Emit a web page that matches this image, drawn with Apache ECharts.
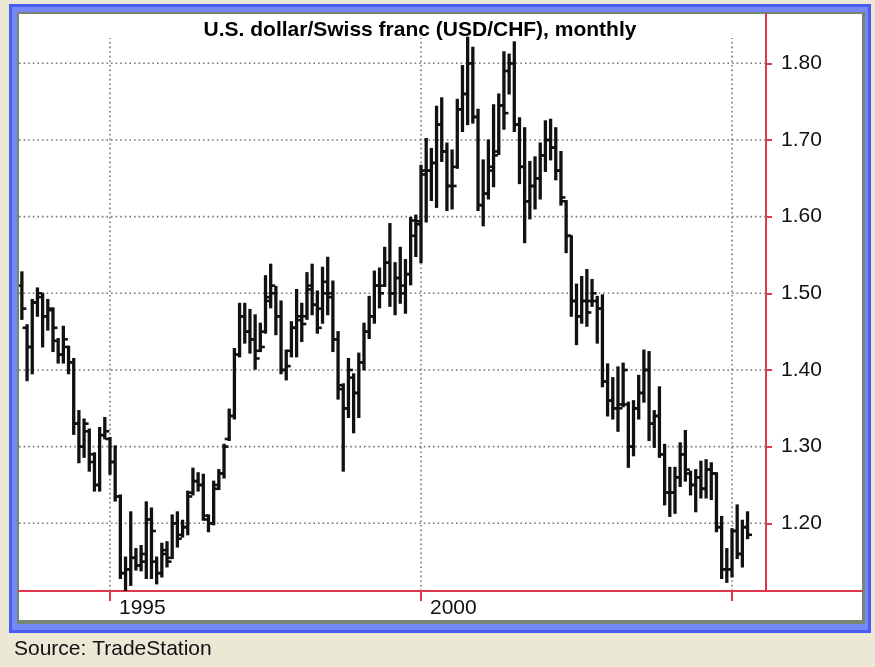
<!DOCTYPE html>
<html><head><meta charset="utf-8">
<script src="https://cdn.jsdelivr.net/npm/echarts@6/dist/echarts.min.js"></script>
<style>
html,body{margin:0;padding:0;width:875px;height:667px;background:#ECE8D6;overflow:hidden;}
#frame{position:absolute;left:9px;top:4px;width:862px;height:629px;background:#7688F6;box-shadow:inset 0 0 0 3px #4A5DF2;}
#edge{position:absolute;left:17px;top:12px;width:848px;height:612px;background:#768672;}
#panel{position:absolute;left:19px;top:14px;width:843px;height:606px;background:#fff;}
#chart{position:absolute;left:0;top:0;width:875px;height:667px;}
</style></head>
<body>
<div id="frame"></div><div id="edge"></div><div id="panel"></div>
<div id="chart"></div>
<script>
// First bar: August 1993; month index 0 = January 1995
const firstYear = 1993, firstMonth = 8;
const titleText = 'U.S. dollar/Swiss franc (USD/CHF), monthly';
const sourceText = 'Source: TradeStation';

const opens = [
  1.510,1.455,1.430,1.488,1.495,
  1.470,1.478,1.438,1.420,1.430,1.410,1.330,1.300,1.320,1.280,1.250,1.315,
  1.310,1.280,1.235,1.135,1.140,1.155,1.145,1.150,1.205,1.150,1.135,1.160,
  1.155,1.200,1.185,1.195,1.240,1.255,1.250,1.205,1.200,1.250,1.265,1.310,
  1.340,1.420,1.470,1.450,1.440,1.425,1.450,1.495,1.500,1.470,1.400,1.425,
  1.455,1.465,1.470,1.505,1.485,1.480,1.515,1.495,1.440,1.375,1.350,1.390,
  1.370,1.410,1.450,1.470,1.510,1.510,1.540,1.500,1.520,1.510,1.525,1.575,
  1.590,1.655,1.660,1.670,1.720,1.685,1.640,1.665,1.740,1.760,1.800,1.730,
  1.615,1.630,1.665,1.685,1.745,1.790,1.800,1.720,1.665,1.620,1.640,1.650,
  1.680,1.700,1.690,1.660,1.620,1.575,1.490,1.470,1.490,1.490,1.490,1.480,
  1.385,1.360,1.350,1.355,1.355,1.300,1.350,1.370,1.400,1.330,1.340,1.290,
  1.240,1.240,1.260,1.290,1.265,1.250,1.260,1.245,1.270,1.265,1.195,1.140,
  1.140,1.190,1.160,1.195
];
const highs = [
  1.528,1.459,1.492,1.507,1.500,
  1.492,1.481,1.441,1.457,1.431,1.415,1.347,1.336,1.323,1.292,1.325,1.338,
  1.312,1.301,1.237,1.156,1.215,1.167,1.171,1.228,1.220,1.156,1.174,1.176,
  1.211,1.215,1.204,1.242,1.272,1.266,1.264,1.211,1.255,1.270,1.303,1.349,
  1.428,1.487,1.487,1.479,1.472,1.461,1.523,1.538,1.509,1.490,1.426,1.463,
  1.505,1.487,1.527,1.538,1.503,1.534,1.547,1.516,1.450,1.382,1.415,1.395,
  1.422,1.461,1.496,1.529,1.533,1.560,1.591,1.540,1.560,1.544,1.599,1.602,
  1.667,1.702,1.689,1.744,1.755,1.696,1.687,1.753,1.797,1.834,1.821,1.740,
  1.674,1.700,1.746,1.760,1.815,1.812,1.828,1.729,1.716,1.672,1.678,1.696,
  1.725,1.727,1.716,1.685,1.621,1.575,1.512,1.522,1.531,1.518,1.496,1.498,
  1.408,1.390,1.404,1.409,1.358,1.360,1.393,1.426,1.424,1.347,1.378,1.303,
  1.273,1.273,1.305,1.321,1.268,1.270,1.281,1.283,1.279,1.266,1.209,1.167,
  1.193,1.224,1.204,1.215
];
const lows = [
  1.466,1.386,1.395,1.470,1.430,
  1.452,1.424,1.409,1.409,1.395,1.316,1.279,1.286,1.268,1.242,1.242,1.310,
  1.264,1.229,1.128,1.112,1.119,1.139,1.138,1.128,1.128,1.121,1.130,1.143,
  1.154,1.169,1.182,1.185,1.237,1.242,1.204,1.189,1.198,1.244,1.259,1.308,
  1.336,1.417,1.435,1.422,1.401,1.424,1.448,1.481,1.446,1.395,1.387,1.417,
  1.417,1.437,1.466,1.472,1.448,1.461,1.472,1.424,1.362,1.268,1.338,1.318,
  1.338,1.400,1.441,1.461,1.481,1.509,1.483,1.472,1.487,1.474,1.511,1.548,
  1.540,1.593,1.621,1.612,1.672,1.608,1.610,1.663,1.711,1.720,1.722,1.608,
  1.588,1.623,1.639,1.681,1.714,1.760,1.711,1.643,1.566,1.597,1.610,1.623,
  1.659,1.674,1.648,1.615,1.553,1.470,1.433,1.461,1.457,1.483,1.435,1.378,
  1.340,1.336,1.320,1.352,1.273,1.288,1.336,1.358,1.308,1.299,1.286,1.224,
  1.209,1.213,1.248,1.255,1.237,1.215,1.233,1.233,1.231,1.189,1.128,1.123,
  1.130,1.154,1.143,1.180
];
const closes = [
  1.480,1.430,1.488,1.500,1.470,
  1.480,1.455,1.420,1.440,1.410,1.330,1.300,1.330,1.290,1.250,1.315,1.320,
  1.280,1.235,1.135,1.140,1.155,1.145,1.160,1.205,1.190,1.135,1.165,1.150,
  1.200,1.180,1.195,1.235,1.255,1.250,1.210,1.200,1.245,1.265,1.300,1.340,
  1.420,1.470,1.450,1.440,1.415,1.430,1.490,1.510,1.470,1.400,1.405,1.455,
  1.470,1.460,1.510,1.485,1.455,1.500,1.500,1.440,1.380,1.350,1.400,1.370,
  1.410,1.450,1.470,1.510,1.500,1.540,1.500,1.520,1.500,1.525,1.595,1.594,
  1.660,1.660,1.670,1.720,1.685,1.640,1.640,1.740,1.760,1.800,1.730,1.615,
  1.630,1.660,1.680,1.745,1.735,1.800,1.720,1.665,1.620,1.640,1.650,1.680,
  1.700,1.690,1.660,1.625,1.575,1.490,1.470,1.490,1.475,1.500,1.480,1.385,
  1.360,1.350,1.350,1.400,1.300,1.350,1.370,1.400,1.330,1.340,1.290,1.240,
  1.240,1.260,1.290,1.270,1.250,1.260,1.245,1.270,1.265,1.195,1.140,1.140,
  1.190,1.160,1.195,1.185
];

const yearTicks = [1995, 2000, 2005];
const yearTickLabels = ['1995', '2000', ''];
const priceTicks = [1.2, 1.3, 1.4, 1.5, 1.6, 1.7, 1.8];

// month index relative to January 1995
function monthIndex(y, m) { return (y - 1995) * 12 + (m - 1); }
const startIdx = monthIndex(firstYear, firstMonth);
const months = opens.map((_, i) => {
  const t = startIdx + i + 12 * 1995;
  const y = Math.floor(t / 12), m = t % 12 + 1;
  return y + '-' + String(m).padStart(2, '0');
});
const ohlc = months.map((lbl, i) => {
  const [y, m] = lbl.split('-').map(Number);
  return [monthIndex(y, m), opens[i], highs[i], lows[i], closes[i]];
});
const tickIdx = yearTicks.map(y => monthIndex(y, 1));

const FONT = '"Liberation Sans", Arial, Helvetica, sans-serif';
const RED = '#E2364F';
const xMin = -17.556, xMax = 145.08;
const yMin = 1.1117, yMax = 1.8643;
const gridRightIdx = 126.55;   // where the price scale line stands
const vGridTop = 1.833;
const DOT = {stroke: '#777', lineWidth: 1.6, lineDash: [1.6, 3]};

const chart = echarts.init(document.getElementById('chart'), null, {renderer: 'canvas'});
chart.setOption({
  animation: false,
  backgroundColor: 'transparent',
  grid: {left: 19, right: 13, top: 14, bottom: 76, containLabel: false},
  xAxis: {
    type: 'value', min: xMin, max: xMax,
    axisLine: {show: true, onZero: false, lineStyle: {color: RED, width: 2}},
    axisTick: {show: true, length: 10, customValues: tickIdx, lineStyle: {color: RED, width: 2}},
    axisLabel: {
      show: true, customValues: tickIdx,
      formatter: v => { const k = tickIdx.indexOf(Math.round(v)); return k >= 0 ? yearTickLabels[k] : ''; },
      align: 'left', padding: [0, 0, 0, 9], margin: 7,
      fontFamily: FONT, fontSize: 21, color: '#111'
    },
    splitLine: {show: false}
  },
  yAxis: {
    type: 'value', position: 'right', offset: -96, min: yMin, max: yMax,
    axisLine: {show: true, onZero: false, lineStyle: {color: RED, width: 2}},
    axisTick: {show: true, length: 6, customValues: priceTicks, lineStyle: {color: RED, width: 2}},
    axisLabel: {
      show: true, customValues: priceTicks, formatter: v => v.toFixed(2),
      margin: 15, fontFamily: FONT, fontSize: 21, color: '#111'
    },
    splitLine: {show: false}
  },
  graphic: [
    {type: 'text', x: 420, y: 30.5, z: 10,
     style: {text: titleText, font: 'bold 21px ' + FONT, fill: '#000', textAlign: 'center', textVerticalAlign: 'middle', verticalAlign: 'middle'}},
    {type: 'text', x: 14, y: 649, z: 10,
     style: {text: sourceText, font: '21px ' + FONT, fill: '#111', textAlign: 'left', textVerticalAlign: 'middle', verticalAlign: 'middle'}}
  ],
  series: [
    {
      type: 'custom', z: 1, silent: true, clip: true,
      data: priceTicks.map(p => [xMin, p]),
      encode: {x: 0, y: 1},
      renderItem: function (params, api) {
        const p = api.value(1);
        const a = api.coord([xMin, p]);
        const b = api.coord([gridRightIdx, p]);
        return {type: 'line', shape: {x1: a[0], y1: a[1], x2: b[0], y2: b[1]}, style: DOT};
      }
    },
    {
      type: 'custom', z: 1, silent: true, clip: true,
      data: tickIdx.map(t => [t, yMin]),
      encode: {x: 0, y: 1},
      renderItem: function (params, api) {
        const t = api.value(0);
        const a = api.coord([t, yMin]);
        const b = api.coord([t, vGridTop]);
        return {type: 'line', shape: {x1: a[0], y1: a[1], x2: b[0], y2: b[1]}, style: DOT};
      }
    },
    {
      type: 'custom', z: 3, clip: true, silent: true,
      data: ohlc,
      encode: {x: 0, y: [1, 2, 3, 4]},
      renderItem: function (params, api) {
        const x = api.value(0);
        const o = api.coord([x, api.value(1)]);
        const h = api.coord([x, api.value(2)]);
        const l = api.coord([x, api.value(3)]);
        const c = api.coord([x, api.value(4)]);
        const st = {stroke: '#111', lineWidth: 3.3};
        const tk = {stroke: '#111', lineWidth: 2.6};
        return {
          type: 'group',
          children: [
            {type: 'line', shape: {x1: h[0], y1: h[1] - 0.5, x2: l[0], y2: l[1] + 0.5}, style: st},
            {type: 'line', shape: {x1: o[0] - 4.5, y1: o[1], x2: o[0], y2: o[1]}, style: tk},
            {type: 'line', shape: {x1: c[0], y1: c[1], x2: c[0] + 4.5, y2: c[1]}, style: tk}
          ]
        };
      }
    }
  ]
});
</script>
</body></html>
